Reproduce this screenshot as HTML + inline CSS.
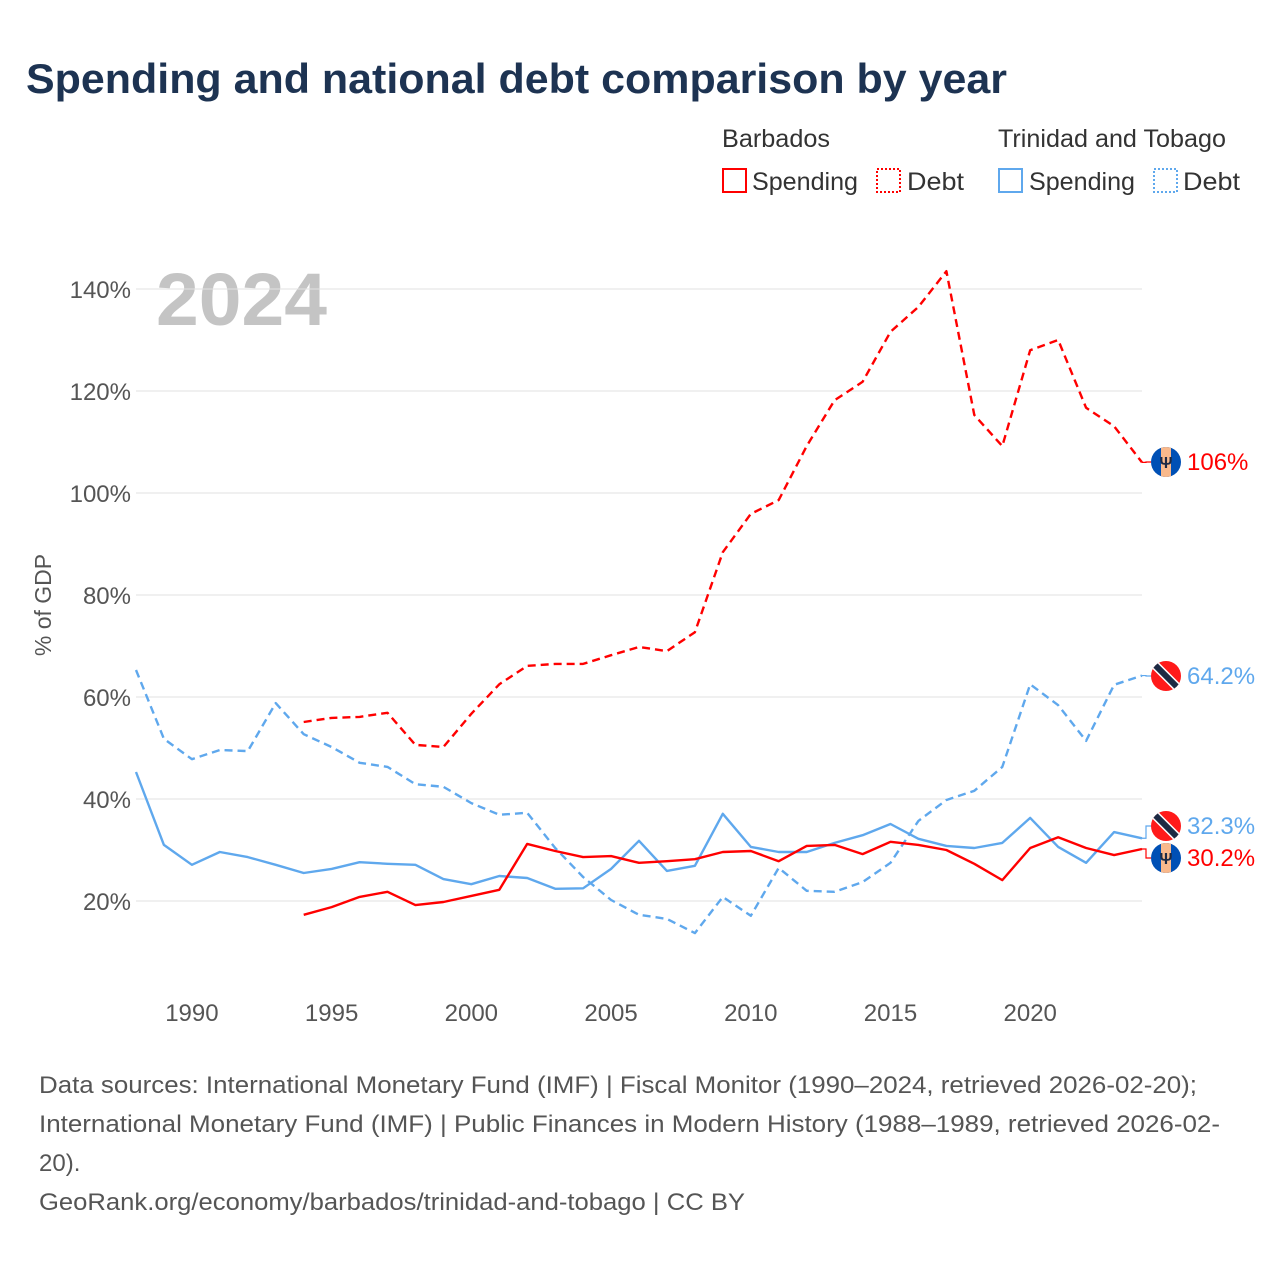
<!DOCTYPE html>
<html><head><meta charset="utf-8"><style>
body{margin:0;background:#fff;font-family:"Liberation Sans",sans-serif}
#wrap{position:relative;width:1280px;height:1280px;overflow:hidden}
</style></head><body>
<div id="wrap">
<svg id="chart" width="1280" height="1280" xmlns="http://www.w3.org/2000/svg">
<text x="26" y="93" font-size="42" font-weight="bold" fill="#1d3352" textLength="981" lengthAdjust="spacingAndGlyphs">Spending and national debt comparison by year</text>
<g font-size="25" fill="#333">
<text x="722" y="147" textLength="108" lengthAdjust="spacingAndGlyphs">Barbados</text>
<text x="998" y="147" textLength="228" lengthAdjust="spacingAndGlyphs">Trinidad and Tobago</text>
<g><rect x="723" y="169" width="23" height="23" fill="none" stroke="#ff0000" stroke-width="2"/><text x="752" y="190" textLength="106" lengthAdjust="spacingAndGlyphs">Spending</text></g>
<g><rect x="877" y="169" width="23" height="23" fill="none" stroke="#ff0000" stroke-width="2" stroke-dasharray="2,2"/><text x="907" y="190" textLength="57" lengthAdjust="spacingAndGlyphs">Debt</text></g>
<g><rect x="999" y="169" width="23" height="23" fill="none" stroke="#5fa8ed" stroke-width="2"/><text x="1029" y="190" textLength="106" lengthAdjust="spacingAndGlyphs">Spending</text></g>
<g><rect x="1154" y="169" width="23" height="23" fill="none" stroke="#5fa8ed" stroke-width="2" stroke-dasharray="2,2"/><text x="1183" y="190" textLength="57" lengthAdjust="spacingAndGlyphs">Debt</text></g>
</g>
<text x="156" y="325" font-size="74" font-weight="bold" fill="#c4c4c4" textLength="171" lengthAdjust="spacingAndGlyphs">2024</text>
<text transform="translate(51,605) rotate(-90)" text-anchor="middle" font-size="23" fill="#555">% of GDP</text>
<g id="grid"></g><g id="series"></g><g id="labels"></g>
<g font-size="24" fill="#555">
<text x="39" y="1093" textLength="1158" lengthAdjust="spacingAndGlyphs">Data sources: International Monetary Fund (IMF) | Fiscal Monitor (1990–2024, retrieved 2026-02-20);</text>
<text x="39" y="1132" textLength="1181" lengthAdjust="spacingAndGlyphs">International Monetary Fund (IMF) | Public Finances in Modern History (1988–1989, retrieved 2026-02-</text>
<text x="39" y="1171">20).</text>
<text x="39" y="1210" textLength="706" lengthAdjust="spacingAndGlyphs">GeoRank.org/economy/barbados/trinidad-and-tobago | CC BY</text>
</g>
</svg>
</div>
<script>
const yTicks=[20,40,60,80,100,120,140];
const xTicks=[1990,1995,2000,2005,2010,2015,2020];
const ttYears=[1988,1989,1990,1991,1992,1993,1994,1995,1996,1997,1998,1999,2000,2001,2002,2003,2004,2005,2006,2007,2008,2009,2010,2011,2012,2013,2014,2015,2016,2017,2018,2019,2020,2021,2022,2023,2024];
const ttDebt=[65.3,51.8,47.8,49.6,49.4,58.8,52.7,50.2,47.1,46.3,42.9,42.4,39.2,36.9,37.3,30.4,24.7,20.2,17.3,16.5,13.7,20.8,17.1,26.5,22,21.8,23.7,27.5,35.7,39.8,41.6,46.3,62.5,58.4,51.4,62.4,64.2];
const ttSpend=[45.3,31,27.1,29.6,28.6,27.1,25.5,26.3,27.6,27.3,27.1,24.3,23.3,24.9,24.5,22.4,22.5,26.3,31.8,25.9,26.9,37.1,30.6,29.6,29.6,31.4,32.9,35.1,32.2,30.8,30.4,31.4,36.3,30.6,27.5,33.5,32.3];
const bbYears=[1994,1995,1996,1997,1998,1999,2000,2001,2002,2003,2004,2005,2006,2007,2008,2009,2010,2011,2012,2013,2014,2015,2016,2017,2018,2019,2020,2021,2022,2023,2024];
const bbDebt=[55.1,55.9,56.1,56.9,50.6,50.2,56.7,62.5,66.1,66.5,66.5,68.2,69.8,69,72.7,88.4,95.9,98.6,109.2,118.2,121.8,131.6,136.5,143.5,115.3,109.2,128,130,116.7,113.1,106];
const bbSpend=[17.3,18.8,20.8,21.8,19.2,19.8,21,22.2,31.2,29.8,28.6,28.8,27.5,27.8,28.2,29.6,29.8,27.8,30.8,31,29.2,31.6,31,30,27.3,24.1,30.4,32.5,30.4,29,30.2];

const NS='http://www.w3.org/2000/svg';
const X=yr=>136+(yr-1988)*(1142-136)/36;
const Y=v=>1003-5.1*v;
function mk(tag,attrs,parent){const e=document.createElementNS(NS,tag);for(const k in attrs)e.setAttribute(k,attrs[k]);parent.appendChild(e);return e;}
const grid=document.getElementById('grid');
yTicks.forEach(t=>{
  const l=mk('line',{x1:136,x2:1142,y1:Y(t),y2:Y(t),stroke:'#e2e2e2','stroke-width':1},grid);
  
  
  const tx=mk('text',{x:131,y:Y(t)+9,'text-anchor':'end','font-size':24,fill:'#555'},grid);
  tx.textContent=t+'%';
  
  
});
xTicks.forEach(t=>{
  const tx=mk('text',{x:X(t),y:1021,'text-anchor':'middle','font-size':24,fill:'#555'},grid);
  tx.textContent=t;
  
  
});
const ser=document.getElementById('series');
function line(years,vals,color,dash,name){
  const d=years.map((y,i)=>(i?'L':'M')+X(y).toFixed(1)+','+Y(vals[i]).toFixed(1)).join('');
  const p=mk('path',{d:d,fill:'none',stroke:color,'stroke-width':2.4,'stroke-linejoin':'round'},ser);
  if(dash)p.setAttribute('stroke-dasharray','8,5');
  
  
}
line(ttYears,ttDebt,'#5fa8ed',true,'line-tt-debt');
line(ttYears,ttSpend,'#5fa8ed',false,'line-tt-spending');
line(bbYears,bbDebt,'#ff0000',true,'line-barbados-debt');
line(bbYears,bbSpend,'#ff0000',false,'line-barbados-spending');

const lab=document.getElementById('labels');
function flag(cy,type,text,color,lastY,name){
  const g=mk('g',{},lab);
  
  
  mk('path',{d:`M1142,${lastY} L1146,${lastY} L1146,${cy} L1151,${cy}`,fill:'none',stroke:color,'stroke-width':1.2},g);
  const cx=1166,r=15;
  const id='c'+name;
  const cp=mk('clipPath',{id:id},g);mk('circle',{cx:cx,cy:cy,r:r},cp);
  const fg=mk('g',{'clip-path':`url(#${id})`},g);
  if(type==='bb'){
    mk('rect',{x:cx-r,y:cy-r,width:2*r,height:2*r,fill:'#0050b5'},fg);
    mk('rect',{x:cx-5,y:cy-r,width:10,height:2*r,fill:'#f9b98c'},fg);
    const t=mk('text',{x:cx,y:cy+6,'text-anchor':'middle','font-size':16,'font-weight':'bold',fill:'#1d2a44'},fg);t.textContent='Ψ';
  } else {
    mk('rect',{x:cx-r,y:cy-r,width:2*r,height:2*r,fill:'#ff1a1a'},fg);
    mk('line',{x1:cx-r,y1:cy-r,x2:cx+r,y2:cy+r,stroke:'#fff','stroke-width':9},fg);
    mk('line',{x1:cx-r,y1:cy-r,x2:cx+r,y2:cy+r,stroke:'#1d2a44','stroke-width':6},fg);
  }
  const t=mk('text',{x:1187,y:cy+8,'font-size':24,fill:color},g);t.textContent=text;
}
flag(462,'bb',bbDebt[bbDebt.length-1]+'%','#ff0000',Y(bbDebt[bbDebt.length-1]),'end-label-barbados-debt');
flag(676,'tt',ttDebt[ttDebt.length-1]+'%','#5fa8ed',Y(ttDebt[ttDebt.length-1]),'end-label-tt-debt');
flag(826,'tt',ttSpend[ttSpend.length-1]+'%','#5fa8ed',Y(ttSpend[ttSpend.length-1]),'end-label-tt-spending');
flag(858,'bb',bbSpend[bbSpend.length-1]+'%','#ff0000',Y(bbSpend[bbSpend.length-1]),'end-label-barbados-spending');
</script>
</body></html>
